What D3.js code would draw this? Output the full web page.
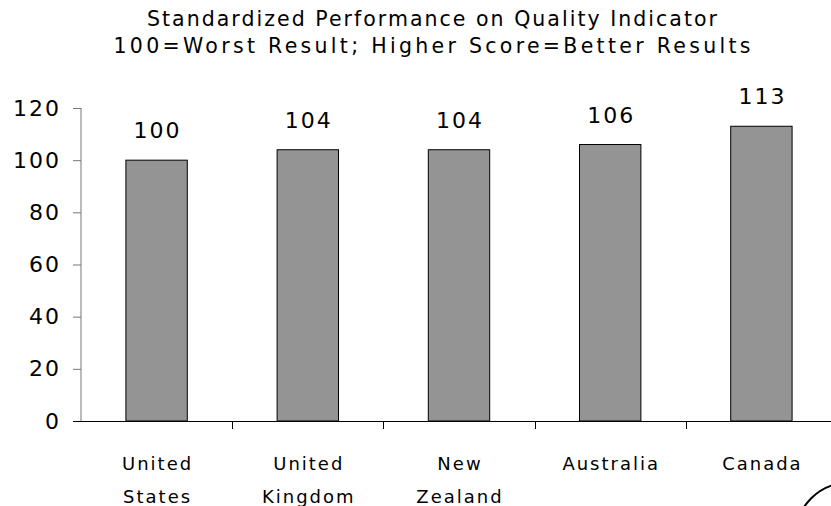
<!DOCTYPE html>
<html><head><meta charset="utf-8">
<script src="https://d3js.org/d3.v7.min.js"></script>
<style>body{margin:0;background:#fff}svg{display:block}</style>
</head><body>
<script>
const categories = [["United","States"],["United","Kingdom"],["New","Zealand"],["Australia"],["Canada"]];
const values = [100,104,104,106,113];
const yTicks = [0,20,40,60,80,100,120];
const titleLines = ["Standardized Performance on Quality Indicator","100=Worst Result; Higher Score=Better Results"];

const W=831,H=506;
const FONT="'DejaVu Sans', Verdana, sans-serif";
const svg=d3.select("body").append("svg").attr("width",W).attr("height",H);
const x0=81,x1=837,y0=421,y1=108;
const keys=categories.map((c,i)=>i);
const x=d3.scaleBand().domain(keys).range([x0,x1]).paddingInner(0.594).paddingOuter(0.297);
const y=d3.scaleLinear().domain([0,120]).range([y0,y1]);

const titleLen=[570,637];
svg.selectAll("text.title").data(titleLines).join("text")
 .attr("x",432).attr("y",(d,i)=>26+i*27).attr("text-anchor","middle")
 .attr("textLength",(d,i)=>titleLen[i]).attr("lengthAdjust","spacing")
 .style("font-family",FONT).style("font-size","20.5px").attr("fill","#000").text(d=>d);

// bars
svg.selectAll("rect.bar").data(values).join("rect")
 .attr("x",(d,i)=>x(i)).attr("y",d=>y(d)).attr("width",x.bandwidth()).attr("height",d=>y0-y(d))
 .attr("fill","#949494").attr("stroke","#000").attr("stroke-width",1);

svg.selectAll("text.val").data(values).join("text")
 .attr("x",(d,i)=>x(i)+x.bandwidth()/2+1).attr("y",d=>y(d)-22).attr("text-anchor","middle")
 .style("font-family",FONT).style("font-size","22px").style("letter-spacing","2px").attr("fill","#000").text(d=>d);

// y axis
const ya=svg.append("g").attr("transform",`translate(${x0},0)`)
 .call(d3.axisLeft(y).tickValues(yTicks).tickSize(8).tickPadding(12));
ya.select(".domain").attr("stroke","#777").attr("d",`M0,${y1}V${y0}`);
ya.selectAll(".tick line").attr("stroke","#777");
ya.selectAll(".tick text").style("font-family",FONT).style("font-size","22px").style("letter-spacing","2px").attr("fill","#000");

// x axis
const step=x.step();
const bounds=d3.range(1,6).map(i=>x0+i*step);
svg.append("line").attr("x1",73).attr("x2",W).attr("y1",y0+0.5).attr("y2",y0+0.5).attr("stroke","#000");
svg.selectAll("line.xt").data(bounds).join("line")
 .attr("x1",d=>Math.round(d)+0.5).attr("x2",d=>Math.round(d)+0.5).attr("y1",y0).attr("y2",y0+8).attr("stroke","#000");

const cl=svg.selectAll("text.cat").data(categories).join("text")
 .attr("text-anchor","middle").style("font-family",FONT).style("font-size","18px").style("letter-spacing","2px").attr("fill","#000");
cl.each(function(d,i){
  const cx=x(i)+x.bandwidth()/2+1;
  d3.select(this).selectAll("tspan").data(d).join("tspan")
   .attr("x",cx).attr("y",(t,j)=>470+j*33).text(t=>t);
});

// decorative arc at bottom right
svg.append("circle").attr("cx",848).attr("cy",535).attr("r",52).attr("fill","none").attr("stroke","#000").attr("stroke-width",2);
</script>
</body></html>
